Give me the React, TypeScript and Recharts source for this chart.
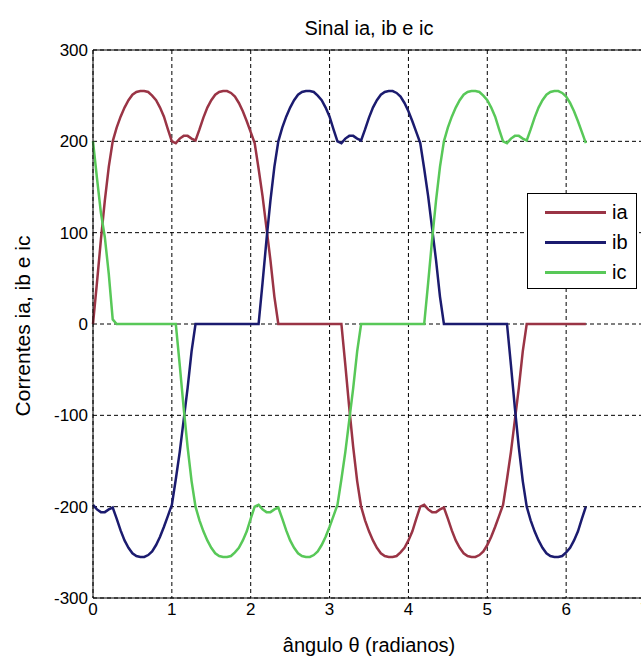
import React from 'react';
import { CartesianGrid, Line, LineChart, ReferenceLine, XAxis, YAxis } from 'recharts';

// ângulo θ (rad)
const theta = [
  0, 0.05, 0.1, 0.15, 0.2, 0.25, 0.3, 0.35, 0.4, 0.45,
  0.5, 0.55, 0.6, 0.65, 0.7, 0.75, 0.8, 0.85, 0.9, 0.95,
  1, 1.05, 1.1, 1.15, 1.2, 1.25, 1.3, 1.35, 1.4, 1.45,
  1.5, 1.55, 1.6, 1.65, 1.7, 1.75, 1.8, 1.85, 1.9, 1.95,
  2, 2.05, 2.1, 2.15, 2.2, 2.25, 2.3, 2.35, 2.4, 2.45,
  2.5, 2.55, 2.6, 2.65, 2.7, 2.75, 2.8, 2.85, 2.9, 2.95,
  3, 3.05, 3.1, 3.15, 3.2, 3.25, 3.3, 3.35, 3.4, 3.45,
  3.5, 3.55, 3.6, 3.65, 3.7, 3.75, 3.8, 3.85, 3.9, 3.95,
  4, 4.05, 4.1, 4.15, 4.2, 4.25, 4.3, 4.35, 4.4, 4.45,
  4.5, 4.55, 4.6, 4.65, 4.7, 4.75, 4.8, 4.85, 4.9, 4.95,
  5, 5.05, 5.1, 5.15, 5.2, 5.25, 5.3, 5.35, 5.4, 5.45,
  5.5, 5.55, 5.6, 5.65, 5.7, 5.75, 5.8, 5.85, 5.9, 5.95,
  6, 6.05, 6.1, 6.15, 6.2, 6.25,
];

const ia = [
  0, 45, 92, 135, 172, 200, 215, 227, 237, 245,
  251, 254, 255, 255, 254, 250, 245, 237, 227, 213,
  200, 198, 203, 206, 206, 203, 201, 213, 226, 237,
  245, 251, 254, 255, 255, 253, 249, 242, 233, 222,
  210, 198, 170, 140, 105, 70, 30, 0, 0, 0,
  0, 0, 0, 0, 0, 0, 0, 0, 0, 0,
  0, 0, 0, 0, -45, -92, -135, -172, -200, -215,
  -227, -237, -245, -251, -254, -255, -255, -254, -250, -245,
  -237, -227, -213, -200, -198, -203, -206, -206, -203, -201,
  -213, -226, -237, -245, -251, -254, -255, -255, -253, -249,
  -242, -233, -222, -210, -198, -170, -140, -105, -70, -30,
  0, 0, 0, 0, 0, 0, 0, 0, 0, 0,
  0, 0, 0, 0, 0, 0,
];

const ib = [
  -198, -203, -206, -206, -203, -201, -213, -226, -237, -245,
  -251, -254, -255, -255, -253, -249, -242, -233, -222, -210,
  -198, -170, -140, -105, -70, -30, 0, 0, 0, 0,
  0, 0, 0, 0, 0, 0, 0, 0, 0, 0,
  0, 0, 0, 45, 92, 135, 172, 200, 215, 227,
  237, 245, 251, 254, 255, 255, 254, 250, 245, 237,
  227, 213, 200, 198, 203, 206, 206, 203, 201, 213,
  226, 237, 245, 251, 254, 255, 255, 253, 249, 242,
  233, 222, 210, 198, 170, 140, 105, 70, 30, 0,
  0, 0, 0, 0, 0, 0, 0, 0, 0, 0,
  0, 0, 0, 0, 0, 0, -45, -92, -135, -172,
  -200, -215, -227, -237, -245, -251, -254, -255, -255, -254,
  -250, -245, -237, -227, -213, -200,
];

const ic = [
  200, 160, 122, 95, 55, 5, 0, 0, 0, 0,
  0, 0, 0, 0, 0, 0, 0, 0, 0, 0,
  0, 0, -45, -92, -135, -172, -200, -215, -227, -237,
  -245, -251, -254, -255, -255, -254, -250, -245, -237, -227,
  -213, -200, -198, -203, -206, -206, -203, -201, -213, -226,
  -237, -245, -251, -254, -255, -255, -253, -249, -242, -233,
  -222, -210, -198, -170, -140, -105, -70, -30, 0, 0,
  0, 0, 0, 0, 0, 0, 0, 0, 0, 0,
  0, 0, 0, 0, 0, 45, 92, 135, 172, 200,
  215, 227, 237, 245, 251, 254, 255, 255, 254, 250,
  245, 237, 227, 213, 200, 198, 203, 206, 206, 203,
  201, 213, 226, 237, 245, 251, 254, 255, 255, 253,
  249, 242, 233, 222, 210, 198,
];

const xTicks = [0, 1, 2, 3, 4, 5, 6, 7];
const yTicks = [-300, -200, -100, 0, 100, 200, 300];

const series = [
  { key: 'ia', color: '#9a3445' },
  { key: 'ib', color: '#1b1b6f' },
  { key: 'ic', color: '#58c858' },
];

const rows = theta.map((t, i) => ({ t, ia: ia[i], ib: ib[i], ic: ic[i] }));

const FONT = '"Liberation Sans", Arial, Helvetica, sans-serif';

export default function App() {
  return (
    <div
      style={{
        position: 'absolute',
        left: 0,
        top: 0,
        width: 641,
        height: 657,
        overflow: 'hidden',
        background: '#fff',
        fontFamily: FONT,
        color: '#000',
      }}
    >
      <LineChart width={660} height={657} data={rows} margin={{ top: 50, right: 15, bottom: 29, left: 33 }}>
        <CartesianGrid stroke="#000" strokeDasharray="4 3" />
        <XAxis
          dataKey="t"
          type="number"
          domain={[0, 7]}
          ticks={xTicks}
          interval={0}
          height={30}
          tickSize={0}
          tickMargin={5}
          axisLine={{ stroke: '#000' }}
          tick={{ fill: '#000', fontSize: 17, fontFamily: FONT }}
        />
        <YAxis
          type="number"
          domain={[-300, 300]}
          ticks={yTicks}
          interval={0}
          width={60}
          tickSize={0}
          tickMargin={5}
          axisLine={{ stroke: '#000' }}
          tick={{ fill: '#000', fontSize: 17, fontFamily: FONT }}
        />
        <ReferenceLine y={300} stroke="#000" />
        <ReferenceLine x={7} stroke="#000" />
        {series.map((s) => (
          <Line
            key={s.key}
            dataKey={s.key}
            type="linear"
            stroke={s.color}
            strokeWidth={2.5}
            dot={false}
            isAnimationActive={false}
          />
        ))}
      </LineChart>

      <div style={{ position: 'absolute', left: 93, top: 17, width: 552, textAlign: 'center', fontSize: 20 }}>
        Sinal ia, ib e ic
      </div>
      <div style={{ position: 'absolute', left: 93, top: 634, width: 552, textAlign: 'center', fontSize: 20 }}>
        ângulo θ (radianos)
      </div>
      <div
        style={{
          position: 'absolute',
          left: 23 - 200,
          top: 326 - 12,
          width: 400,
          height: 24,
          lineHeight: '24px',
          textAlign: 'center',
          fontSize: 21,
          transform: 'rotate(-90deg)',
        }}
      >
        Correntes ia, ib e ic
      </div>

      <div
        style={{
          position: 'absolute',
          left: 527,
          top: 193,
          width: 108,
          height: 94,
          border: '1px solid #000',
          background: '#fff',
        }}
      >
        {series.map((s, i) => (
          <div key={s.key} style={{ position: 'absolute', left: 0, top: 6 + i * 30, height: 24, width: 108 }}>
            <div style={{ position: 'absolute', left: 17, top: 11, width: 61, height: 3, background: s.color }} />
            <div style={{ position: 'absolute', left: 84, top: 0, fontSize: 20, lineHeight: '24px' }}>{s.key}</div>
          </div>
        ))}
      </div>
    </div>
  );
}
